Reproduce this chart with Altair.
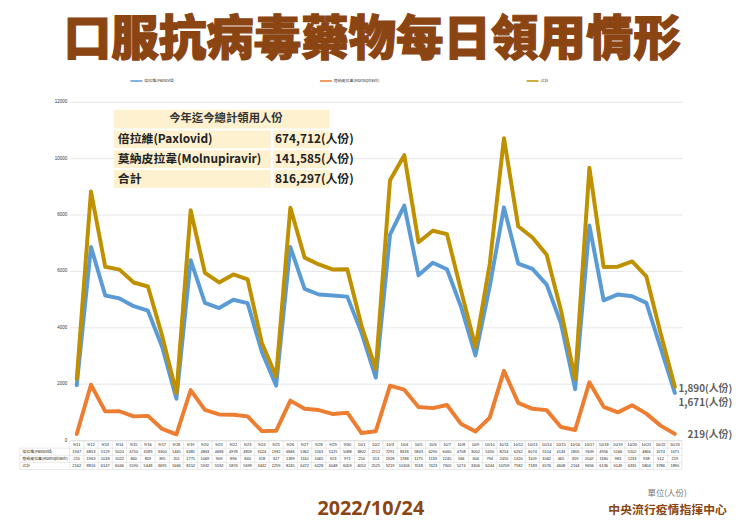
import altair as alt
import pandas as pd

dates = ["9/11","9/12","9/13","9/14","9/15","9/16","9/17","9/18","9/19","9/20",
         "9/21","9/22","9/23","9/24","9/25","9/26","9/27","9/28","9/29","9/30",
         "10/1","10/2","10/3","10/4","10/5","10/6","10/7","10/8","10/9","10/10",
         "10/11","10/12","10/13","10/14","10/15","10/16","10/17","10/18","10/19","10/20",
         "10/21","10/22","10/23"]
paxlovid = [1947,6853,5129,5024,4750,4589,3300,1465,6381,4863,
            4683,4978,4859,3124,1932,6846,5362,5163,5125,5088,
            3802,2212,7291,8318,5843,6290,6060,4708,3002,5450,
            8254,6262,6074,5514,4143,1805,7609,4956,5166,5102,
            4866,3274,1671]
molnupiravir = [215,1963,1018,1022,840,859,395,201,1771,1069,
                909,896,840,318,327,1399,1110,1065,923,971,
                250,313,1928,1788,1175,1133,1245,566,304,794,
                2455,1320,1109,1062,465,359,2047,1180,983,1233,
                938,512,219]
total = [2162,8816,6147,6046,5590,5448,3695,1666,8152,5932,
         5592,5874,5699,3442,2259,8245,6472,6228,6048,6059,
         4052,2525,9219,10106,7018,7423,7305,5274,3306,6244,
         10709,7582,7183,6576,4608,2164,9656,6136,6149,6335,
         5804,3786,1890]

series_names = ["倍拉維(Paxlovid)", "莫納皮拉韋(Molnupiravir)", "合計"]
series_colors = ["#5B9BD5", "#ED7D31", "#BF9000"]

summary_title = "今年迄今總計領用人份"
summary_labels = ["倍拉維(Paxlovid)", "莫納皮拉韋(Molnupiravir)", "合計"]
summary_values = ["674,712(人份)", "141,585(人份)", "816,297(人份)"]

title_text = "口服抗病毒藥物每日領用情形"
date_text = "2022/10/24"
unit_text = "單位(人份)"
source_text = "中央流行疫情指揮中心"

CJK = "Noto Sans CJK TC"
BROWN = "#8B4513"

n = len(dates)
idx = list(range(n))

def sdf(vals):
    return pd.DataFrame({"i": idx, "v": vals, "d": dates})

xscale = alt.Scale(domain=[-0.5, n - 0.5])
xenc = alt.X("i:Q", scale=xscale, axis=None)
yscale = alt.Scale(domain=[0, 12000])
yaxis = alt.Axis(values=[0, 2000, 4000, 6000, 8000, 10000, 12000], format="d",
                 labelFontSize=4.5, labelColor="#333", labelFont="Liberation Sans",
                 domain=False, ticks=False, labelPadding=3,
                 gridColor="#E6E6E6", gridWidth=1, title=None)
yenc = alt.Y("v:Q", scale=yscale, axis=yaxis)

layers = []
# lines
for k, vals in enumerate([paxlovid, molnupiravir, total]):
    layers.append(alt.Chart(sdf(vals)).mark_line(
        color=series_colors[k], strokeWidth=4, strokeJoin="round", strokeCap="round"
    ).encode(x=xenc, y=yenc))

# end labels (right aligned)
end_dy = [10, 1, 2.5]
for k, vals in enumerate([paxlovid, molnupiravir, total]):
    d = sdf(vals).tail(1)
    layers.append(alt.Chart(d).transform_calculate(
        lab="format(datum.v, ',') + '(人份)'"
    ).mark_text(align="right", baseline="middle", dx=58, dy=end_dy[k], fontSize=10,
                fontWeight="bold", color="#5F5F5F", font=CJK).encode(
        x=xenc, y=yenc, text="lab:N"))

# legend
leg_x = [61.5, 253, 462]
leg_y = -21
for k in range(3):
    layers.append(alt.Chart(pd.DataFrame({"a": [0]})).mark_rule(
        color=series_colors[k], strokeWidth=1.5).encode(
        x=alt.value(leg_x[k]), x2=alt.value(leg_x[k] + 12), y=alt.value(leg_y)))
    layers.append(alt.Chart(pd.DataFrame({"t": [series_names[k]]})).mark_text(
        align="left", baseline="middle", fontSize=4, color="#333", font=CJK).encode(
        x=alt.value(leg_x[k] + 14), y=alt.value(leg_y), text="t:N"))

# data table under the axis
row_top = 343
row_h = 7.2
label_left = -50.3
grid_c = "#D4D4D4"
edges = pd.DataFrame({"e": [i - 0.5 for i in range(n + 1)]})
layers.append(alt.Chart(edges).mark_rule(color=grid_c, strokeWidth=0.5).encode(
    x=alt.X("e:Q", scale=xscale, axis=None),
    y=alt.value(row_top), y2=alt.value(row_top + 4 * row_h)))
layers.append(alt.Chart(pd.DataFrame({"a": [0]})).mark_rule(color=grid_c, strokeWidth=0.5).encode(
    x=alt.value(label_left), y=alt.value(row_top + row_h), y2=alt.value(row_top + 4 * row_h)))
for r in range(5):
    x0 = 0 if r == 0 else label_left
    layers.append(alt.Chart(pd.DataFrame({"a": [0]})).mark_rule(color=grid_c, strokeWidth=0.5).encode(
        x=alt.value(x0), x2=alt.value(619), y=alt.value(row_top + r * row_h)))

rows = [dates, paxlovid, molnupiravir, total]
for r, vals in enumerate(rows):
    d = pd.DataFrame({"i": idx, "t": [str(v) for v in vals]})
    layers.append(alt.Chart(d).mark_text(
        align="center", baseline="middle", fontSize=4, color="#222",
        font="Liberation Sans").encode(
        x=xenc, y=alt.value(row_top + r * row_h + row_h / 2), text="t:N"))
    if r > 0:
        layers.append(alt.Chart(pd.DataFrame({"t": [series_names[r - 1]]})).mark_text(
            align="left", baseline="middle", fontSize=4, color="#222", font=CJK).encode(
            x=alt.value(label_left + 2.5), y=alt.value(row_top + r * row_h + row_h / 2), text="t:N"))

# summary inset table
tx0, tx1, tsplit = 44.7, 262.7, 204.7
cell_boxes = [
    (tx0, tx1, 8, 27),
    (tx0, tsplit - 1.5, 29, 47), (tsplit + 1.5, tx1, 29, 47),
    (tx0, tsplit - 1.5, 49, 67), (tsplit + 1.5, tx1, 49, 67),
    (tx0, tsplit - 1.5, 69, 87), (tsplit + 1.5, tx1, 69, 87),
]
for (a, b, c, e) in cell_boxes:
    layers.append(alt.Chart(pd.DataFrame({"a": [0]})).mark_rect(color="#FDF1CF").encode(
        x=alt.value(a), x2=alt.value(b), y=alt.value(c), y2=alt.value(e)))
layers.append(alt.Chart(pd.DataFrame({"t": [summary_title]})).mark_text(
    align="center", baseline="middle", fontSize=11.5, fontWeight="bold", color="#333", font=CJK).encode(
    x=alt.value(158), y=alt.value(17.5), text="t:N"))
sum_y = [38, 58, 78]
for k in range(3):
    layers.append(alt.Chart(pd.DataFrame({"t": [summary_labels[k]]})).mark_text(
        align="left", baseline="middle", fontSize=12, fontWeight="bold", color="#222", font=CJK).encode(
        x=alt.value(tx0 + 4), y=alt.value(sum_y[k]), text="t:N"))
    layers.append(alt.Chart(pd.DataFrame({"t": [summary_values[k]]})).mark_text(
        align="left", baseline="middle", fontSize=12, fontWeight="bold", color="#222", font=CJK).encode(
        x=alt.value(tsplit + 3), y=alt.value(sum_y[k]), text="t:N"))

# titles and footer
def txt(t, x, y, size, color, weight="normal", font=CJK, align="center", stroke_w=0):
    kw = dict(align=align, baseline="middle", fontSize=size, fontWeight=weight,
              color=color, font=font)
    if stroke_w:
        kw.update(stroke=color, strokeWidth=stroke_w)
    return alt.Chart(pd.DataFrame({"t": [t]})).mark_text(**kw).encode(
        x=alt.value(x), y=alt.value(y), text="t:N")

layers.append(txt(title_text, 306, -61, 48, BROWN, weight=900, stroke_w=1.2))
layers.append(txt(date_text, 304.5, 412, 20, BROWN, weight="bold", font="Open Sans"))
layers.append(txt(unit_text, 604, 396, 8.5, "#777"))
layers.append(txt(source_text, 604.5, 413, 12, BROWN, weight="bold"))

chart = alt.layer(*layers).properties(
    width=619, height=342,
    autosize=alt.AutoSizeParams(type="none"),
    padding={"left": 62.3, "top": 92, "right": 60.7, "bottom": 76},
    background="white",
).configure_view(stroke=None)

chart.save("out.html", embed_options={"renderer": "svg", "actions": False})
